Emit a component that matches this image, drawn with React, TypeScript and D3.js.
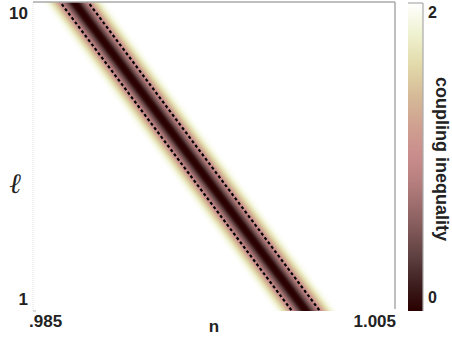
import React from 'react';
import * as d3 from 'd3';

// axis ranges and ticks
const nDomain = [0.985, 1.005];
const ellDomain = [1, 10];
const nTicks = ['.985', '1.005'];
const ellTicks = ['1', '10'];

// band centre (ell -> n)
const bandEll = [1, 10];
const bandN = [1.00008, 0.98727];

// coupling inequality across the band (offset in n from centre)
const profileOffset = [0, 0.00011, 0.0002, 0.00036, 0.00052, 0.00068, 0.00077, 0.00088, 0.00099, 0.00116, 0.00133, 0.00149, 0.00166, 0.0018];
const profileValue = [0, 0.02, 0.08, 0.35, 0.62, 0.85, 0.97, 1.1, 1.3, 1.55, 1.75, 1.9, 1.97, 2.0];
const dashOffset = 0.00077;

// colour map
const cmapValue = [0, 0.15, 0.35, 0.6, 0.85, 1.0, 1.2, 1.4, 1.6, 1.8, 2.0];
const cmapColor = ['#2a0000', '#3a1a1a', '#5e4040', '#8e6262', '#b88080', '#c98c8c', '#cfa090', '#d6bb98', '#e2daaa', '#eff2d0', '#ffffff'];

export default function App() {
  const W = 452, H = 342;
  const m = { left: 33, top: 2, right: 395, bottom: 311 };

  const x = d3.scaleLinear().domain(nDomain).range([m.left, m.right]);
  const y = d3.scaleLinear().domain(ellDomain).range([m.bottom, m.top]);
  const center = d3.scaleLinear().domain(bandEll).range(bandN);
  const color = d3.scaleLinear<string>().domain(cmapValue).range(cmapColor).interpolate(d3.interpolateRgb);

  // gradient perpendicular to the band
  const p0: [number, number] = [x(center(1)), y(1)];
  const p1: [number, number] = [x(center(10)), y(10)];
  const len = Math.hypot(p1[0] - p0[0], p1[1] - p0[1]);
  const u = [(p1[0] - p0[0]) / len, (p1[1] - p0[1]) / len];
  const nrm = [-u[1], u[0]];
  const maxOff = d3.max(profileOffset) as number;
  const maxPx = x(nDomain[0] + maxOff) - x(nDomain[0]);
  const Wn = maxPx * Math.abs(nrm[0]);
  const sgn = nrm[0] >= 0 ? 1 : -1;
  const g1 = [p0[0] - sgn * Wn * nrm[0], p0[1] - sgn * Wn * nrm[1]];
  const g2 = [p0[0] + sgn * Wn * nrm[0], p0[1] + sgn * Wn * nrm[1]];

  const stops: { off: number; c: string }[] = [];
  for (let i = profileOffset.length - 1; i >= 0; i--) {
    stops.push({ off: 0.5 - profileOffset[i] / (2 * maxOff), c: color(profileValue[i]) });
  }
  for (let i = 1; i < profileOffset.length; i++) {
    stops.push({ off: 0.5 + profileOffset[i] / (2 * maxOff), c: color(profileValue[i]) });
  }

  const dashLine = (s: number) => {
    const a = 0, b = 11;
    return `M${x(center(a) + s * dashOffset)},${y(a)}L${x(center(b) + s * dashOffset)},${y(b)}`;
  };

  // colour bar
  const cb = { left: 408, right: 423, top: 3, bottom: 311 };
  const cy = d3.scaleLinear().domain([0, 2]).range([cb.bottom, cb.top]);

  const font = 'Liberation Sans, Arial, sans-serif';

  return (
    <svg width={W} height={H} style={{ position: 'absolute', left: 0, top: 0, background: '#fff' }}>
      <defs>
        <linearGradient id="band" gradientUnits="userSpaceOnUse" x1={g1[0]} y1={g1[1]} x2={g2[0]} y2={g2[1]}>
          {stops.map((s, i) => <stop key={i} offset={s.off} stopColor={s.c} />)}
        </linearGradient>
        <linearGradient id="cbar" x1="0" y1="1" x2="0" y2="0">
          {cmapValue.map((v, i) => <stop key={i} offset={v / 2} stopColor={cmapColor[i]} />)}
        </linearGradient>
        <clipPath id="plot">
          <rect x={m.left} y={m.top} width={m.right - m.left} height={m.bottom - m.top} />
        </clipPath>
      </defs>

      <g clipPath="url(#plot)">
        <rect x={m.left} y={m.top} width={m.right - m.left} height={m.bottom - m.top} fill="url(#band)" />
        {[-1, 1].map(s => (
          <path key={s} d={dashLine(s)} stroke="#000" strokeWidth={2.2} strokeDasharray="3,2.5" fill="none" />
        ))}
      </g>

      {/* frame */}
      <line x1={m.left} x2={m.left} y1={m.top} y2={m.bottom} stroke="#ddd" strokeDasharray="1,1" />
      <line x1={m.left} x2={m.right} y1={m.top} y2={m.top} stroke="#aaa" strokeWidth={1.5} />
      <line x1={m.right} x2={m.right} y1={m.top} y2={m.bottom - 2} stroke="#aaa" strokeWidth={1.5} />
      <line x1={m.left} x2={m.left + 3} y1={m.bottom} y2={m.bottom} stroke="#bbb" />

      {/* ticks labels */}
      <text x={28} y={19} textAnchor="end" fontFamily={font} fontWeight="bold" fontSize={17} fill="#222">{ellTicks[1]}</text>
      <text x={28} y={305} textAnchor="end" fontFamily={font} fontWeight="bold" fontSize={17} fill="#222">{ellTicks[0]}</text>
      <text x={29} y={327} fontFamily={font} fontWeight="bold" fontSize={17} fill="#222">{nTicks[0]}</text>
      <text x={396} y={327} textAnchor="end" fontFamily={font} fontWeight="bold" fontSize={17} fill="#222">{nTicks[1]}</text>
      <text x={214} y={332} textAnchor="middle" fontFamily={font} fontWeight="bold" fontSize={17} fill="#222">n</text>
      <text x={15} y={193} textAnchor="middle" fontFamily="DejaVu Serif, serif" fontStyle="italic" fontSize={28} fill="#222">ℓ</text>

      {/* colour bar */}
      <rect x={cb.left} y={cb.top} width={cb.right - cb.left} height={cb.bottom - cb.top} fill="url(#cbar)" />
      <line x1={cb.left} x2={cb.right} y1={cb.top} y2={cb.top} stroke="#aaa" strokeWidth={1.2} />
      <line x1={cb.right} x2={cb.right} y1={cb.top} y2={cb.bottom} stroke="#aaa" strokeWidth={1.2} />
      <text x={428} y={cy(2) + 15} fontFamily={font} fontWeight="bold" fontSize={16} fill="#222">2</text>
      <text x={428} y={cy(0) - 8} fontFamily={font} fontWeight="bold" fontSize={16} fill="#222">0</text>
      <text transform={`translate(436,159) rotate(90)`} textAnchor="middle" fontFamily={font} fontWeight="bold" fontSize={18} fill="#222">coupling inequality</text>
    </svg>
  );
}
